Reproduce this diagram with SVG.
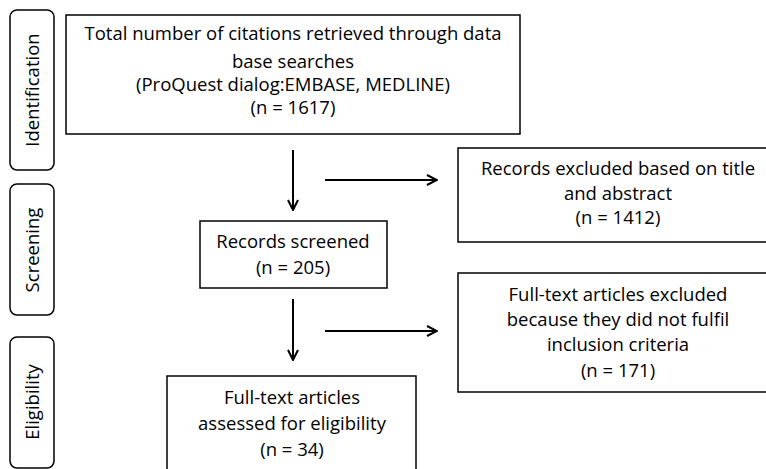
<svg xmlns="http://www.w3.org/2000/svg" width="766" height="469" viewBox="0 0 766 469">
<defs>
<marker id="arr" viewBox="0 0 12 12" refX="11" refY="6" markerWidth="12" markerHeight="12" markerUnits="userSpaceOnUse" orient="auto">
<path d="M1,1 L11,6 L1,11" fill="none" stroke="#000" stroke-width="2"/>
</marker>
<style>
.box{fill:#fff;stroke:#000;stroke-width:1.5}
.side{fill:#fff;stroke:#000;stroke-width:1.5}
text{font-family:"Open Sans","Liberation Sans",sans-serif;font-size:18.5px;fill:#000;text-anchor:middle}
.con{stroke:#000;stroke-width:2;fill:none}
</style>
</defs>
<rect width="766" height="469" fill="#fff"/>
<g id="stage-identification">
<rect class="side" x="10" y="10" width="44" height="160" rx="7"/>
<text transform="translate(39,90) rotate(-90)">Identification</text>
</g>
<g id="stage-screening">
<rect class="side" x="10" y="184" width="44" height="131" rx="7"/>
<text transform="translate(39,250) rotate(-90)">Screening</text>
</g>
<g id="stage-eligibility">
<rect class="side" x="10" y="337" width="44" height="131" rx="7"/>
<text transform="translate(39,402) rotate(-90)">Eligibility</text>
</g>
<g id="identified">
<rect class="box" x="66" y="15" width="454" height="119"/>
<text x="293" y="40">Total number of citations retrieved through data</text>
<text x="293" y="68">base searches</text>
<text x="293" y="91">(ProQuest dialog:EMBASE, MEDLINE)</text>
<text x="293" y="114">(n = 1617)</text>
</g>
<g id="excluded-title">
<rect class="box" x="458" y="148" width="320" height="94"/>
<text x="618" y="175">Records excluded based on title</text>
<text x="618" y="200">and abstract</text>
<text x="618" y="224">(n = 1412)</text>
</g>
<g id="screened">
<rect class="box" x="200" y="221" width="187" height="67"/>
<text x="293" y="248">Records screened</text>
<text x="293" y="274">(n = 205)</text>
</g>
<g id="excluded-fulltext">
<rect class="box" x="458" y="273" width="320" height="119"/>
<text x="618" y="301">Full-text articles excluded</text>
<text x="618" y="326">because they did not fulfil</text>
<text x="618" y="351">inclusion criteria</text>
<text x="618" y="377">(n = 171)</text>
</g>
<g id="assessed">
<rect class="box" x="167" y="376" width="249" height="100"/>
<text x="292" y="404">Full-text articles</text>
<text x="292" y="430">assessed for eligibility</text>
<text x="292" y="456">(n = 34)</text>
</g>
<g id="connectors">
<line class="con" x1="293" y1="150" x2="293" y2="210" marker-end="url(#arr)"/>
<line class="con" x1="325" y1="180" x2="437" y2="180" marker-end="url(#arr)"/>
<line class="con" x1="293" y1="299" x2="293" y2="360" marker-end="url(#arr)"/>
<line class="con" x1="325" y1="331" x2="437" y2="331" marker-end="url(#arr)"/>
</g>
</svg>
